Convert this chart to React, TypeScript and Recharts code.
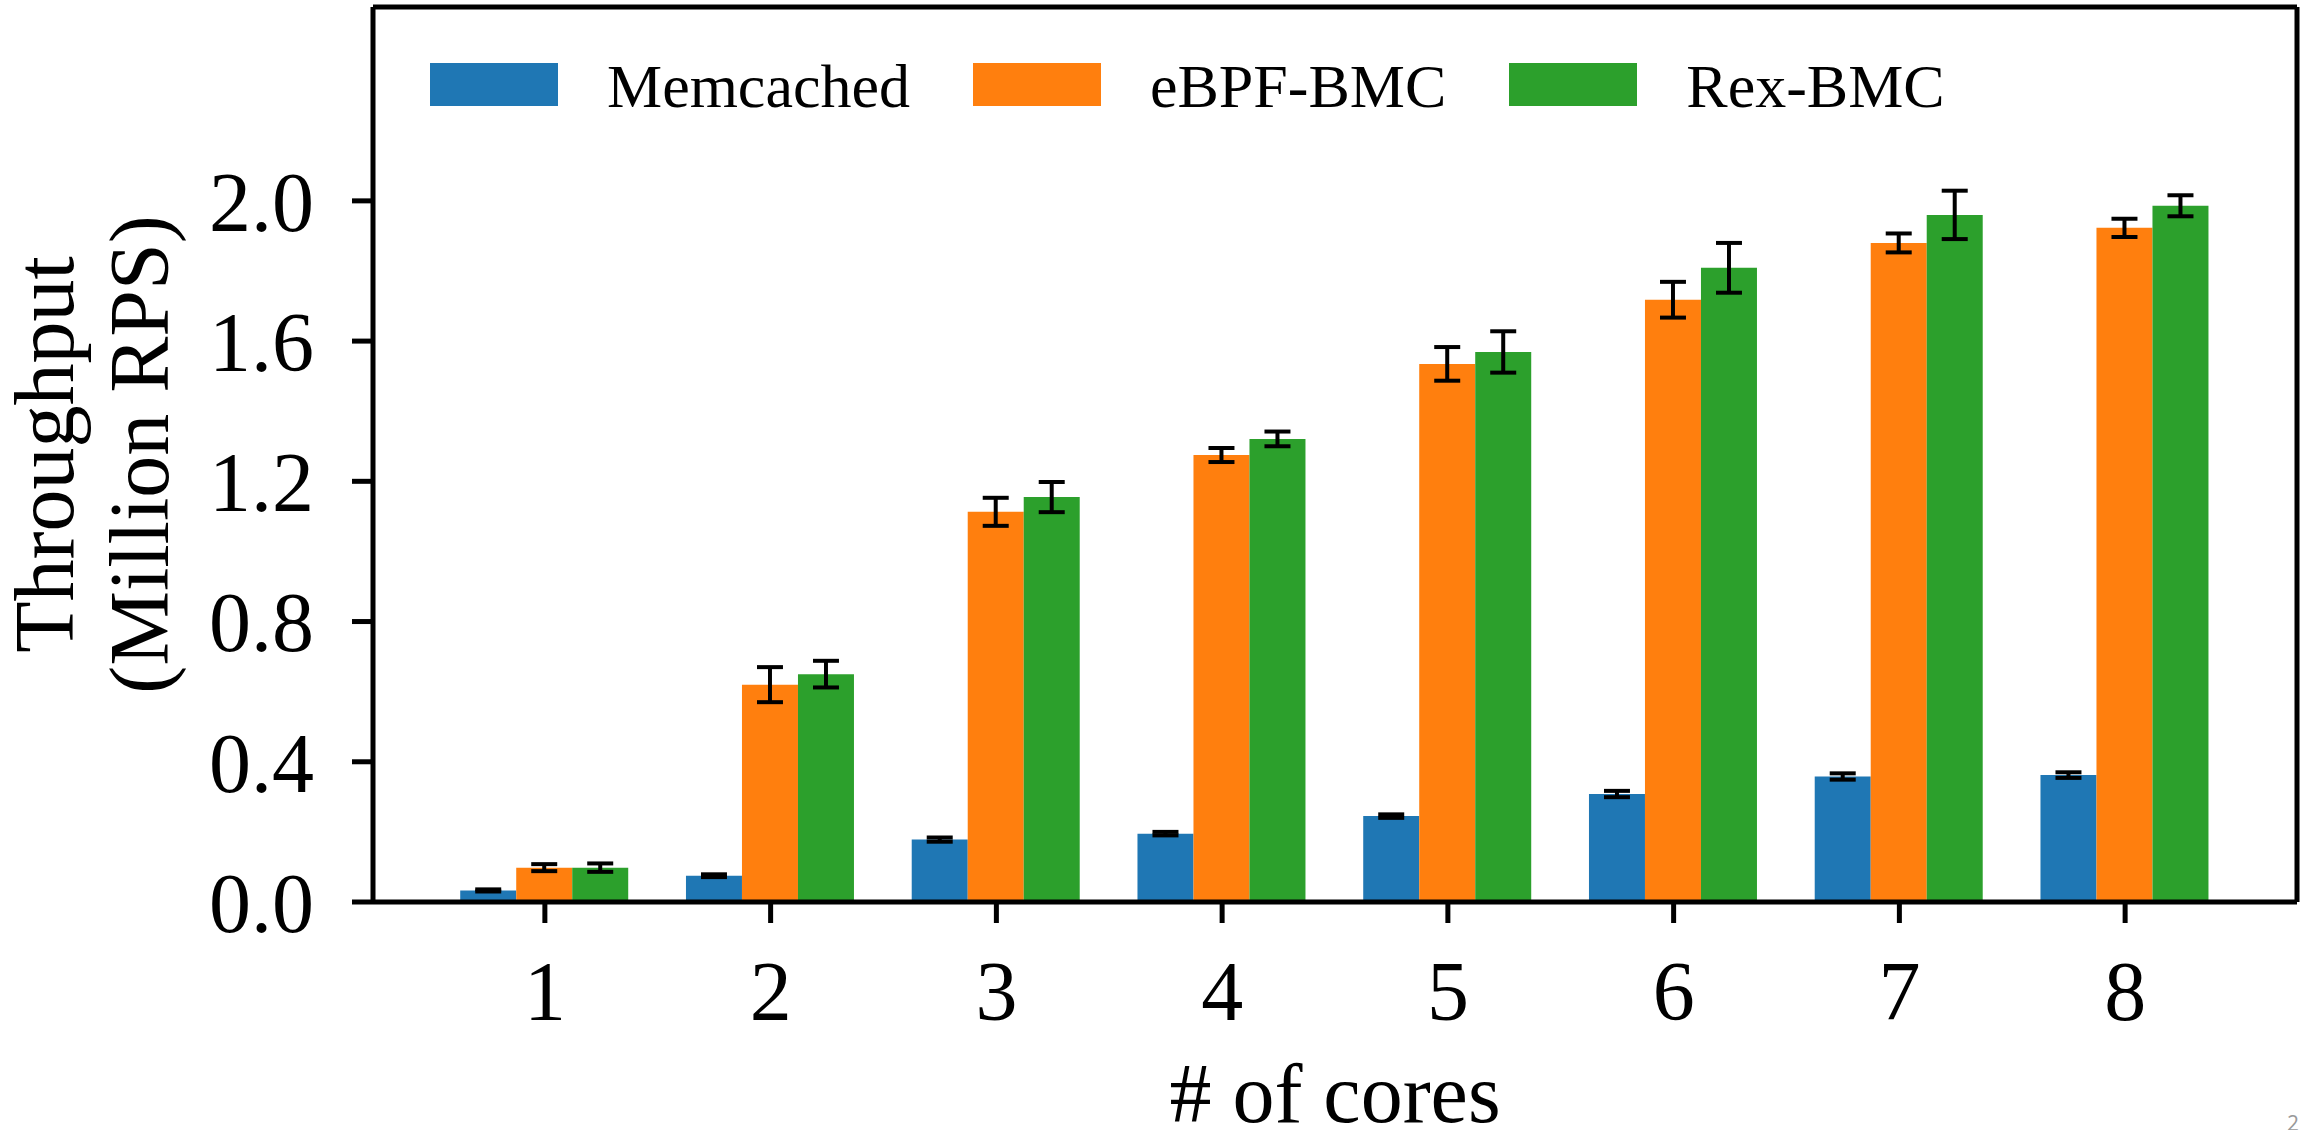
import { BarChart, Bar, XAxis, YAxis, ErrorBar, Label } from 'recharts';

const cores = ['1', '2', '3', '4', '5', '6', '7', '8'];
const memcached = [0.033, 0.075, 0.178, 0.195, 0.245, 0.308, 0.358, 0.362];
const memcachedErr = [0.003, 0.004, 0.006, 0.005, 0.005, 0.009, 0.009, 0.008];
const ebpfBmc = [0.098, 0.62, 1.113, 1.275, 1.535, 1.718, 1.88, 1.923];
const ebpfBmcErr = [0.01, 0.05, 0.04, 0.02, 0.048, 0.051, 0.027, 0.026];
const rexBmc = [0.098, 0.65, 1.155, 1.321, 1.569, 1.809, 1.96, 1.986];
const rexBmcErr = [0.012, 0.038, 0.043, 0.021, 0.059, 0.071, 0.069, 0.03];
const yTicks = [0, 0.4, 0.8, 1.2, 1.6, 2.0];

const series = [
  { key: 'memcached', err: 'memcachedErr', name: 'Memcached', color: '#1f77b4' },
  { key: 'ebpf', err: 'ebpfErr', name: 'eBPF-BMC', color: '#ff7f0e' },
  { key: 'rex', err: 'rexErr', name: 'Rex-BMC', color: '#2ca02c' },
];

const data = cores.map((c, i) => ({
  cores: c,
  memcached: memcached[i],
  memcachedErr: memcachedErr[i],
  ebpf: ebpfBmc[i],
  ebpfErr: ebpfBmcErr[i],
  rex: rexBmc[i],
  rexErr: rexBmcErr[i],
}));

const FONT = '"Liberation Serif", "Times New Roman", "DejaVu Serif", serif';
const W = 2303;
const H = 1130;
const LINE = 5;

function LegendRow() {
  return (
    <div style={{ position: 'absolute', left: 430, top: 55, display: 'flex', alignItems: 'flex-start', fontFamily: FONT }}>
      {series.map((s) => (
        <div key={s.key} style={{ display: 'flex', alignItems: 'flex-start', marginRight: 63 }}>
          <div style={{ width: 128, height: 43, marginTop: 8, background: s.color }} />
          <span style={{ marginLeft: 49, fontSize: 62, lineHeight: '62px', color: '#000', whiteSpace: 'nowrap' }}>{s.name}</span>
        </div>
      ))}
    </div>
  );
}

function YTitle(props: any) {
  const vb = props.viewBox || { x: 0, y: 7, width: 373, height: 895 };
  const cy = vb.y + vb.height / 2;
  const x1 = vb.x + 73;
  const x2 = vb.x + 168;
  return (
    <g fontFamily={FONT} fontSize={84} fill="#000">
      <text x={x1} y={cy} textAnchor="middle" transform={`rotate(-90 ${x1} ${cy})`}>Throughput</text>
      <text x={x2} y={cy} textAnchor="middle" transform={`rotate(-90 ${x2} ${cy})`}>(Million RPS)</text>
    </g>
  );
}

export default function App() {
  const tick = { fill: '#000', fontSize: 84, fontFamily: FONT };
  const axisLine = { stroke: '#000', strokeWidth: LINE };
  return (
    <div style={{ position: 'absolute', left: 0, top: 0, width: W, height: H, background: '#fff' }}>
      <BarChart
        width={W}
        height={H}
        data={data}
        margin={{ top: 6, right: 5, bottom: 0, left: 0 }}
        barCategoryGap="12.5%"
        barGap={0}
      >
        <XAxis
          dataKey="cores"
          height={228}
          padding={{ left: 59, right: 59 }}
          tick={tick}
          tickSize={21}
          tickMargin={37}
          tickLine={{ stroke: '#000', strokeWidth: LINE }}
          axisLine={axisLine}
          interval={0}
        >
          <Label value="# of cores" position="insideBottom" offset={8} fill="#000" fontSize={84} fontFamily={FONT} />
        </XAxis>
        <XAxis
          xAxisId="top"
          dataKey="cores"
          orientation="top"
          height={1}
          tick={false}
          tickLine={false}
          axisLine={axisLine}
        />
        <YAxis
          width={373}
          domain={[0, 2.553]}
          ticks={yTicks}
          allowDataOverflow
          tickFormatter={(v: number) => v.toFixed(1)}
          tick={tick}
          tickSize={21}
          tickMargin={38}
          tickLine={{ stroke: '#000', strokeWidth: LINE }}
          axisLine={axisLine}
        >
          <Label content={<YTitle />} />
        </YAxis>
        <YAxis
          yAxisId="right"
          orientation="right"
          width={1}
          domain={[0, 2.553]}
          ticks={yTicks}
          tick={false}
          tickLine={false}
          axisLine={axisLine}
        />
        {series.map((s) => (
          <Bar key={s.key} dataKey={s.key} name={s.name} fill={s.color} isAnimationActive={false}>
            <ErrorBar dataKey={s.err} width={13} strokeWidth={4} stroke="#000" direction="y" isAnimationActive={false} />
          </Bar>
        ))}
      </BarChart>
      <LegendRow />
      <span style={{ position: 'absolute', left: 2287, top: 1113, fontSize: 21, lineHeight: '21px', color: '#999', fontFamily: '"Open Sans", sans-serif' }}>2</span>
    </div>
  );
}
